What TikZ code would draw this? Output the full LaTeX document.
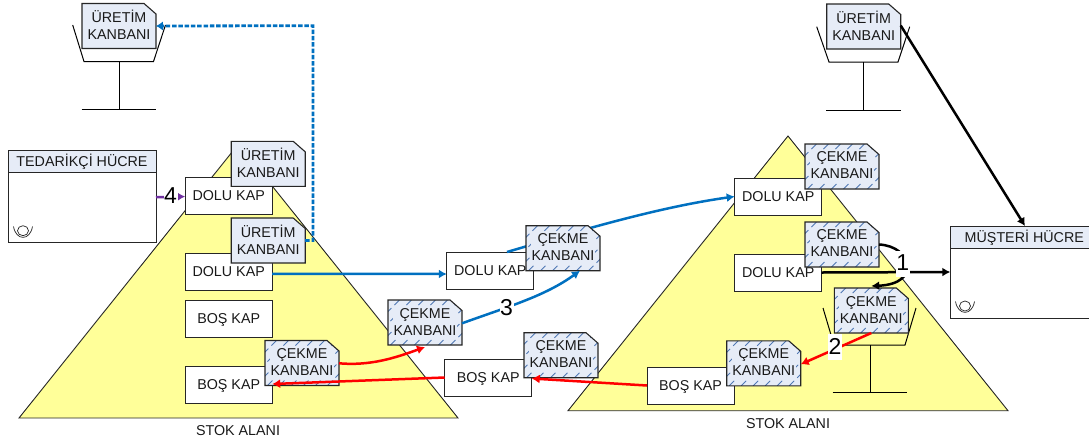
\documentclass[tikz,border=0pt]{standalone}
\usepackage{fontspec}
\setmainfont{Liberation Sans}
\usetikzlibrary{arrows.meta}
\definecolor{kanfill}{HTML}{E6ECF7}
\definecolor{trifill}{HTML}{FFFF99}
\definecolor{hatchc}{HTML}{4F78B4}
\definecolor{flowblue}{HTML}{0070C0}
\definecolor{flowpurple}{HTML}{7030A0}
\tikzset{
  x=1pt,y=-1pt,
  every node/.style={font=\fontsize{14.3}{17}\selectfont,text=black!90,align=center,outer sep=0pt,inner sep=0pt},
  tri/.style={draw=black!85,fill=trifill,line width=0.9pt,line join=miter},
  box/.style={draw=black!85,fill=white,line width=1pt,minimum width=87pt,minimum height=37pt,text height=10.3pt,text depth=0pt},
  kanedge/.style={draw=black!85,line width=1.1pt,line join=miter},
  kanbox/.style={minimum width=74pt,minimum height=45pt},
  stand/.style={draw=black,line width=1pt},
  cell/.style={draw=black!85,fill=white,line width=1pt,minimum width=148pt,minimum height=92pt},
  cellhead/.style={draw=black!85,fill=kanfill,line width=1pt,minimum width=148pt,minimum height=22pt,text height=10.3pt,text depth=0pt},
  num/.style={font=\fontsize{23}{24}\selectfont,text=black,fill=white,minimum width=14pt,minimum height=26pt},
  flow/.style={line width=2.5pt,-{Latex[length=8pt,width=9pt]}},
}
\newcommand\kanoutline{(-37,-22.5) -- (25,-22.5) -- (37,-12) -- (37,22.5) -- (-37,22.5) -- cycle}
% plain kanban: name, position, text
\newcommand\kanplain[3]{%
  \begin{scope}[shift={(#2)}]
    \fill[kanfill] \kanoutline;
    \draw[kanedge] \kanoutline;
  \end{scope}
  \node[kanbox] (#1) at (#2) {};
  \node (#1-t) at ([yshift=1pt]#1.center) {#3};
}
% hatched kanban: name, position, text
\newcommand\kanhatch[3]{%
  \begin{scope}[shift={(#2)}]
    \fill[kanfill] \kanoutline;
    \begin{scope}
      \clip \kanoutline;
      \foreach \k in {-72,-60,...,72}{
        \draw[hatchc,line width=0.9pt,dash pattern=on 7pt off 4.3pt] (\k-22.5,22.5) -- (\k+22.5,-22.5);
      }
      \fill[kanfill] (-32,-16.5) rectangle (32,16.5);
    \end{scope}
    \draw[kanedge] \kanoutline;
  \end{scope}
  \node[kanbox] (#1) at (#2) {};
  \node (#1-t) at ([yshift=1pt]#1.center) {#3};
}
\begin{document}
\begin{tikzpicture}
\useasboundingbox (0,0) rectangle (1089,445);
\clip (0,0) rectangle (1089,445);
% triangles
\draw[tri] (238.5,144) -- (458,418) -- (19,418) -- cycle;
\draw[tri] (788,136) -- (1008,410.7) -- (568,410.7) -- cycle;
% stands
\draw[stand] (72.7,25) -- (84,61.5) -- (153.5,61.5) -- (165.5,25);
\draw[stand] (119,61.5) -- (119,109);
\draw[stand] (81.5,109) -- (156,109);
\draw[stand] (816.7,26.7) -- (829,62) -- (898,62) -- (909.7,26.7);
\draw[stand] (863,62) -- (863,110);
\draw[stand] (826,110) -- (901,110);
\draw[stand] (823,308) -- (834,345) -- (905,345) -- (916,308);
\draw[stand] (870,345) -- (870,392);
\draw[stand] (832.7,392) -- (907,392);
% cells
\node[cell] (ted) at (82,196.7) {};
\node[cellhead] (tedh) at (82,161.5) {TEDARİKÇİ HÜCRE};
\node[cell] (mus) at (1024.3,272) {};
\node[cellhead] (mush) at (1024.3,237) {MÜŞTERİ HÜCRE};
% eye symbols
\draw[black!85,line width=0.7pt] (23,230.7) ellipse (5.5 and 5);
\draw[black!85,line width=0.7pt] (13.5,226.5) .. controls (16,241) and (30,241) .. (32.5,226.5);
\draw[black!85,line width=0.7pt] (965,306) ellipse (5.5 and 5);
\draw[black!85,line width=0.7pt] (955.5,301.5) .. controls (958,316) and (972,316) .. (974.5,301.5);
% boxes
\node[box] (ldolu1) at (228.7,195.8) {DOLU KAP};
\node[box] (ldolu2) at (228.7,271.8) {DOLU KAP};
\node[box] (lbos1) at (228.7,318.5) {BOŞ KAP};
\node[box] (lbos2) at (228.7,384.5) {BOŞ KAP};
\node[box] (mdolu) at (490.3,270.5) {DOLU KAP};
\node[box] (mbos) at (488.2,377.5) {BOŞ KAP};
\node[box] (rdolu1) at (778.2,196.5) {DOLU KAP};
\node[box] (rdolu2) at (778.2,272.5) {DOLU KAP};
\node[box] (rbos) at (690.5,385.5) {BOŞ KAP};
% connectors running under the kanbans
\draw[flow,flowblue] ([xshift=16.7pt]mdolu.north) .. controls (585,229) and (660,207) .. (rdolu1.west);
\draw[flow,flowblue] ([yshift=-2pt]ldolu2.east) -- ([yshift=-3.5pt]mdolu.west);
% kanbans
\kanplain{ku1}{119,26}{ÜRETİM\\KANBANI}
\kanplain{ku2}{863.7,26.5}{ÜRETİM\\KANBANI}
\kanplain{ku3}{268.2,163.8}{ÜRETİM\\KANBANI}
\kanplain{ku4}{268.2,240.5}{ÜRETİM\\KANBANI}
\kanhatch{kc1}{302,363}{ÇEKME\\KANBANI}
\kanhatch{kc2}{425,322.5}{ÇEKME\\KANBANI}
\kanhatch{kc3}{563,248.2}{ÇEKME\\KANBANI}
\kanhatch{kc4}{561,355.2}{ÇEKME\\KANBANI}
\kanhatch{kc5}{842,166.5}{ÇEKME\\KANBANI}
\kanhatch{kc6}{842,244.5}{ÇEKME\\KANBANI}
\kanhatch{kc7}{871.3,310.5}{ÇEKME\\KANBANI}
\kanhatch{kc8}{763.7,363.3}{ÇEKME\\KANBANI}
\coordinate (purpleend) at (ldolu1.west);
\coordinate (kc8hit) at ([yshift=-1pt]kc8.east);
% connectors
\draw[flowblue,line width=2.8pt,dash pattern=on 4.5pt off 1.8pt,-{Latex[length=7pt,width=9.5pt]}]
   (ku4.east) -- (313,240.5) -- (313,25.7) -- (ku1.east);
\draw[flow,flowpurple] ([yshift=-0.5pt]ted.east) -- ([yshift=-0.7pt]purpleend);
\draw[flow,flowblue] ([yshift=-0.8pt]kc2.east) .. controls (510,306) and (545,296) .. ([xshift=17pt]kc3.south);
\draw[flow,red] ([yshift=-0.3pt]kc1.east) .. controls (370,366) and (395,358) .. ([yshift=-2pt]kc2.south);
\draw[flow,red] (mbos.west) -- ([yshift=0.5pt]lbos2.east);
\draw[flow,red] (rbos.west) -- ([yshift=-1pt]mbos.east);
\draw[flow,red] (kc7.south) -- (kc8hit);
\draw[flow,black] (rdolu2.east) -- (mus.west);
\draw[flow,black] (kc6.east) .. controls (912,246) and (922,284) .. ([yshift=2pt]kc7.north);
\draw[flow,black] ([yshift=1pt]ku2.east) -- ([xshift=0.7pt]mush.north);
\node[num] (n1) at (902.7,264) {\raisebox{2pt}{1}};
\node[num] (n2) at (835,346.5) {2};
\node[num] (n3) at (506.5,308) {3};
\node[num] (n4) at (170.5,196) {4};
\node (s1) at (238,431) {STOK ALANI};
\node (s2) at (788,424) {STOK ALANI};
\end{tikzpicture}
\end{document}
